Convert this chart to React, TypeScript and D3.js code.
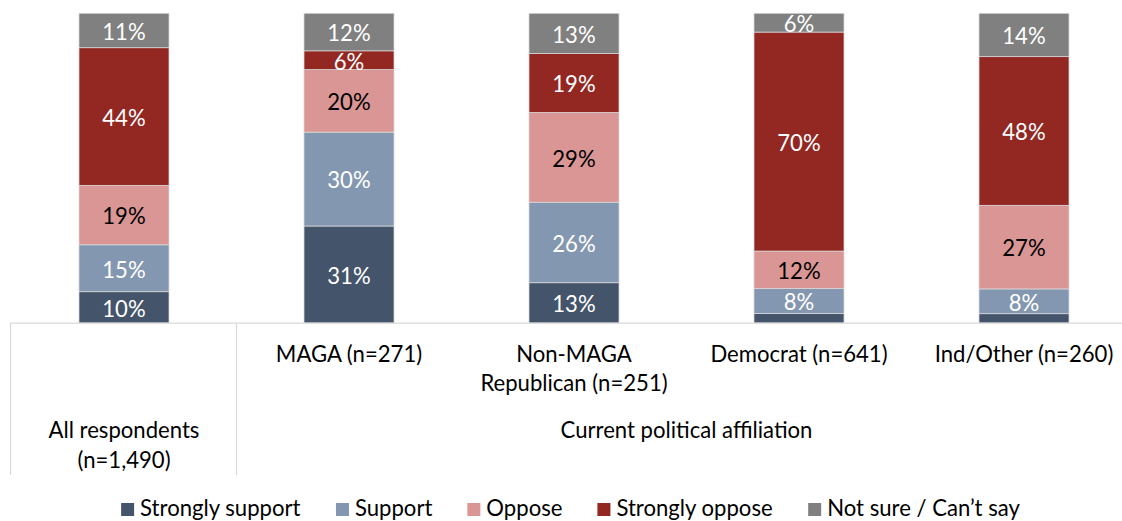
import * as d3 from "d3";
import React from "react";

const seriesNames = [
  "Strongly support",
  "Support",
  "Oppose",
  "Strongly oppose",
  "Not sure / Can\u2019t say",
];

const categories = ["all", "maga", "nonmaga", "dem", "ind"];

// inner (leaf) labels of the two-level category axis
const categoryLines = [
  [],
  ["MAGA (n=271)"],
  ["Non-MAGA", "Republican (n=251)"],
  ["Democrat (n=641)"],
  ["Ind/Other (n=260)"],
];

// outer group labels: first/last category index + lines
const groupLabels = [
  { from: 0, to: 0, lines: ["All respondents", "(n=1,490)"] },
  { from: 1, to: 4, lines: ["Current political affiliation"] },
];

const stronglySupport = [10, 31, 13, 3, 3];
const support = [15, 30, 26, 8, 8];
const oppose = [19, 20, 29, 12, 27];
const stronglyOppose = [44, 6, 19, 70, 48];
const notSure = [11, 12, 13, 6, 14];

const colors = ["#44546a", "#8497b0", "#da9694", "#932721", "#808080"];
const labelColors = ["#ffffff", "#ffffff", "#000000", "#ffffff", "#ffffff"];

const width = 1122;
const height = 521;
const axisY = 323;
const topY = 13.3;
const fontFamily = "Lato, Carlito, 'Liberation Sans', sans-serif";

const ctx = document.createElement("canvas").getContext("2d");
const measure = (t: string, size: number) => {
  ctx.font = `${size}px Lato`;
  return ctx.measureText(t).width;
};
// Calibri 18pt "Strongly support" is ~161px wide in the original
const fontSize = Math.min(24, (24 * 161) / measure("Strongly support", 24));

export default function App() {
  const rows = categories.map((c, i) => ({
    cat: c,
    s0: stronglySupport[i],
    s1: support[i],
    s2: oppose[i],
    s3: stronglyOppose[i],
    s4: notSure[i],
  }));
  const keys = ["s0", "s1", "s2", "s3", "s4"];
  const stacked = d3.stack().keys(keys).offset(d3.stackOffsetExpand)(rows as any);

  const x = d3
    .scaleBand()
    .domain(categories)
    .range([11.5, 1136.5])
    .paddingInner(0.6)
    .paddingOuter(0.3);
  const y = d3.scaleLinear().domain([0, 1]).range([axisY, topY]);

  const step = x.step();
  const bandLeft = (i: number) => x(categories[i])! - x.paddingOuter() * step;

  // legend layout
  const sq = 13;
  const legendItems = seriesNames.map((n) => ({ n, w: sq + 6 + measure(n, fontSize) }));
  const gap = 35;
  const total = d3.sum(legendItems, (d) => d.w) + gap * (legendItems.length - 1);
  let lx = 570.5 - total / 2;
  const legendPos = legendItems.map((d) => {
    const p = lx;
    lx += d.w + gap;
    return p;
  });

  return (
    <div style={{ position: "absolute", left: 0, top: 0 }}>
      <svg width={width} height={height} style={{ display: "block", fontFamily }}>
        <rect width={width} height={height} fill="#ffffff" />
        {stacked.map((layer, si) => (
          <g key={si}>
            {layer.map((d, ci) => {
              const v = (rows[ci] as any)[keys[si]];
              const y0 = y(d[1]);
              const y1 = y(d[0]);
              return (
                <g key={ci}>
                  <rect
                    x={x(categories[ci])}
                    y={y0}
                    width={x.bandwidth()}
                    height={y1 - y0}
                    fill={colors[si]}
                    stroke="#d9d9d9"
                    strokeWidth={0.75}
                  />
                  {v >= 5 && (
                    <text
                      x={x(categories[ci])! + x.bandwidth() / 2}
                      y={(y0 + y1) / 2}
                      dy="0.42em"
                      textAnchor="middle"
                      fontSize={fontSize}
                      fill={labelColors[si]}
                    >
                      {v}%
                    </text>
                  )}
                </g>
              );
            })}
          </g>
        ))}

        {/* two-level category axis */}
        <line x1={10.5} x2={width} y1={axisY} y2={axisY} stroke="#d9d9d9" strokeWidth={1.25} />
        {groupLabels.map((g, gi) => (
          <line
            key={gi}
            x1={Math.round(bandLeft(g.from)) + 0.5 - (gi === 0 ? 1 : 0)}
            x2={Math.round(bandLeft(g.from)) + 0.5 - (gi === 0 ? 1 : 0)}
            y1={axisY}
            y2={475}
            stroke="#d9d9d9"
            strokeWidth={1.25}
          />
        ))}
        {categoryLines.map((lines, ci) =>
          lines.map((t, li) => (
            <text
              key={`${ci}-${li}`}
              x={x(categories[ci])! + x.bandwidth() / 2}
              y={362 + li * 29}
              textAnchor="middle"
              fontSize={fontSize}
              fill="#000000"
            >
              {t}
            </text>
          ))
        )}
        {groupLabels.map((g, gi) =>
          g.lines.map((t, li) => (
            <text
              key={`g${gi}-${li}`}
              x={(bandLeft(g.from) + bandLeft(g.to) + step) / 2}
              y={438 + li * 30}
              textAnchor="middle"
              fontSize={fontSize}
              fill="#000000"
            >
              {t}
            </text>
          ))
        )}

        {/* legend */}
        {legendItems.map((d, i) => (
          <g key={d.n} transform={`translate(${legendPos[i]},0)`}>
            <rect x={0} y={503} width={sq} height={sq} fill={colors[i]} />
            <text x={sq + 6} y={516} fontSize={fontSize} fill="#000000">
              {d.n}
            </text>
          </g>
        ))}
      </svg>
    </div>
  );
}
